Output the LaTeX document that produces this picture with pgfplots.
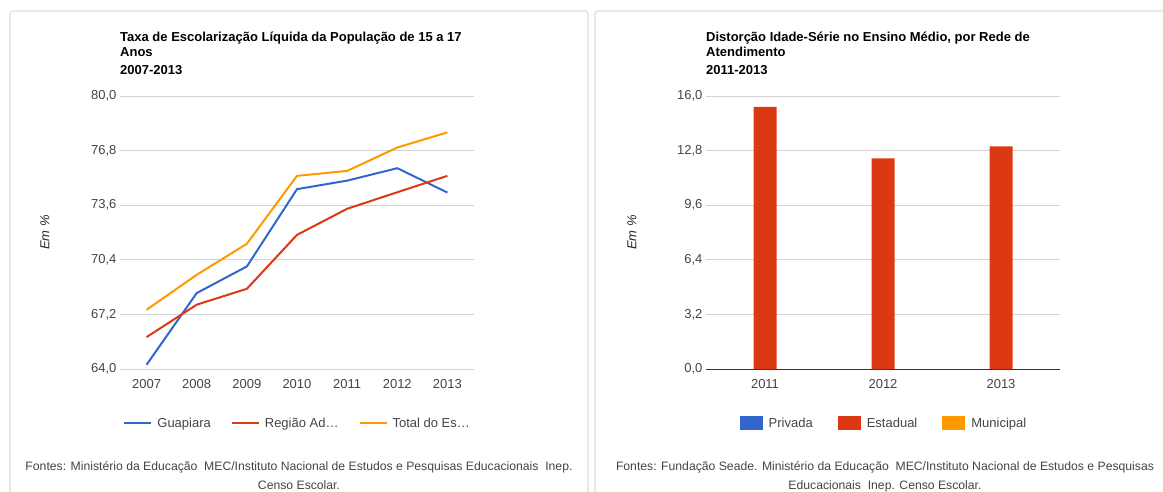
\documentclass[border=0pt]{standalone}
\usepackage{pgfplots}
\pgfplotsset{compat=1.18}
\usepackage{fontspec}
\setmainfont{Liberation Sans}
\definecolor{gblue}{HTML}{3366CC}
\definecolor{gred}{HTML}{DC3912}
\definecolor{gorange}{HTML}{FF9900}
\definecolor{gridc}{HTML}{D4D4D4}
\definecolor{tickc}{HTML}{444444}
\definecolor{panel}{HTML}{DDDDDD}
\pgfplotsset{
  gstyle/.style={
    scale only axis,
    width=354pt, height=273pt,
    /pgf/number format/assume math mode=true,
    ymajorgrids,
    grid style={gridc, line width=1pt},
    major tick length=0pt,
    axis line style={draw=none},
    tick label style={font=\fontsize{13}{15}\selectfont, text=tickc},
    yticklabel style={/pgf/number format/.cd, fixed, fixed zerofill, precision=1, use comma},
    xticklabel style={/pgf/number format/1000 sep={}, yshift=-7pt},
    every axis y label/.style={rotate=90, anchor=center, font=\itshape\fontsize{13}{15}\selectfont, text=black!85},
    legend columns=3,
    legend style={draw=none, fill=none, inner sep=0pt, anchor=center,
      font=\fontsize{13}{15}\selectfont, text=tickc,
      nodes={inner sep=0pt, anchor=west}},
  }
}
\begin{document}
\begin{tikzpicture}[x=1pt,y=1pt]
\useasboundingbox (0,0) rectangle (1163,491);
% panels
\draw[panel, line width=1.2pt, rounded corners=3pt] (10,-10) -- (10,480) -- (588,480) -- (588,-10);
\draw[panel, line width=1.2pt, rounded corners=3pt] (595,-10) -- (595,480) -- (1180,480) -- (1180,-10);
% titles
\begin{scope}[every node/.style={anchor=base west, inner sep=0pt, font=\bfseries\fontsize{13}{15}\selectfont}]
\node at (120,449) {Taxa de Escolarização Líquida da População de 15 a 17};
\node at (120,434) {Anos};
\node at (120,416) {2007-2013};
\node at (706,449) {Distorção Idade-Série no Ensino Médio, por Rede de};
\node at (706,434) {Atendimento};
\node at (706,416) {2011-2013};
\end{scope}
% footers
\begin{scope}[every node/.style={anchor=base, inner sep=0pt, text=tickc, font=\fontsize{12.2}{14}\selectfont}]
\node at (299,21) {Fontes: Ministério da Educação \ MEC/Instituto Nacional de Estudos e Pesquisas Educacionais \ Inep.};
\node at (299,2) {Censo Escolar.};
\node at (885,21) {Fontes: Fundação Seade. Ministério da Educação \ MEC/Instituto Nacional de Estudos e Pesquisas};
\node at (885,2) {Educacionais \ Inep. Censo Escolar.};
\end{scope}

\begin{axis}[gstyle,
  at={(120pt,122pt)}, anchor=south west,
  xmin=2006.47, xmax=2013.53, ymin=64, ymax=80,
  xtick={2007,...,2013},
  ytick={64,67.2,70.4,73.6,76.8,80},
  ylabel={Em \%},
  every axis y label/.append style={at={(axis description cs:-0.212,0.5)}},
  legend style={at={(axis description cs:0.499,-0.198)},
    /tikz/every odd column/.append style={column sep=5pt},
    /tikz/every even column/.append style={column sep=20pt}},
  legend image code/.code={\draw[#1] (0pt,0pt) -- (27pt,0pt);},
]
\addplot[gblue, line width=2pt] coordinates {(2007,64.25) (2008,68.45) (2009,70.01) (2010,74.54) (2011,75.04) (2012,75.77) (2013,74.34)};
\addlegendentry{Guapiara}
\addplot[gred, line width=2pt] coordinates {(2007,65.87) (2008,67.77) (2009,68.70) (2010,71.86) (2011,73.39) (2012,74.36) (2013,75.32)};
\addlegendentry{Região Ad…}
\addplot[gorange, line width=2pt] coordinates {(2007,67.47) (2008,69.52) (2009,71.34) (2010,75.32) (2011,75.61) (2012,76.98) (2013,77.87)};
\addlegendentry{Total do Es…}
\end{axis}

\begin{axis}[gstyle,
  at={(706pt,122pt)}, anchor=south west,
  xmin=-0.5, xmax=2.5, ymin=0, ymax=16,
  xtick={0,1,2}, xticklabels={2011,2012,2013},
  ytick={0,3.2,6.4,9.6,12.8,16},
  extra y ticks={0}, extra y tick labels={},
  extra y tick style={grid style={draw=black!80, line width=1pt}},
  ylabel={Em \%},
  every axis y label/.append style={at={(axis description cs:-0.209,0.5)}},
  ybar, bar width=23pt,
  legend style={at={(axis description cs:0.5,-0.198)},
    /tikz/every odd column/.append style={column sep=6pt},
    /tikz/every even column/.append style={column sep=25pt}},
  legend image code/.code={\fill[#1] (0pt,-7pt) rectangle (23pt,7pt);},
]
\addlegendimage{fill=gblue, draw=none}
\addlegendentry{Privada}
\addplot[fill=gred, draw=none] coordinates {(0,15.37) (1,12.35) (2,13.05)};
\addlegendentry{Estadual}
\addlegendimage{fill=gorange, draw=none}
\addlegendentry{Municipal}
\end{axis}
\end{tikzpicture}
\end{document}
